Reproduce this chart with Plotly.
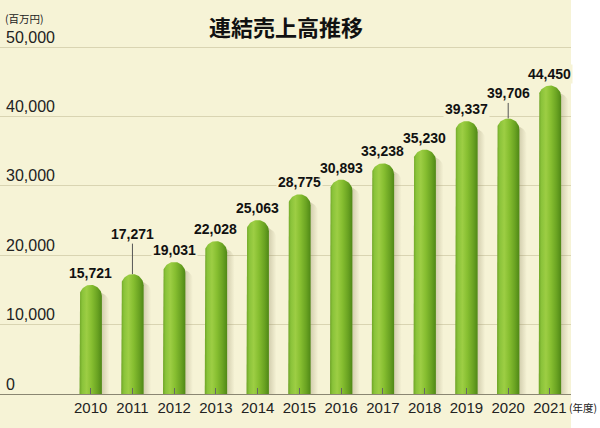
import numpy as np
import plotly.graph_objects as go

# ---- data ----
years = [2010, 2011, 2012, 2013, 2014, 2015, 2016, 2017, 2018, 2019, 2020, 2021]
sales = [15721, 17271, 19031, 22028, 25063, 28775, 30893, 33238, 35230, 39337, 39706, 44450]
label_lift = {2011: -40, 2020: -25}   # labels raised with leader lines
y_ticks = [0, 10000, 20000, 30000, 40000, 50000]
y_ticktext = ["0", "10,000", "20,000", "30,000", "40,000", "50,000"]
title_text = "連結売上高推移"
unit_y = "(百万円)"
unit_x = "(年度)"

# ---- layout geometry (pixels) ----
W, H = 600, 428
ML, MR, MT, MB = 0, 29, 4, 34
plot_w = W - ML - MR
plot_h = H - MT - MB
px_per_year = 41.75
first_px = 90.7
x0 = years[0] - first_px / px_per_year
x1 = x0 + plot_w / px_per_year
YMAX = 50000
zero_px = H - MB          # 394
top_grid_px = 47
px_per_val = (zero_px - top_grid_px) / YMAX
YTOP = plot_h / px_per_val

CREAM = "#f6f3d6"
bar_half_px = 11.2
hw = bar_half_px / px_per_year
ry = bar_half_px / px_per_val

bar_scale = [[0.0, "#6ea427"], [0.12, "#8ac33a"], [0.32, "#9dce44"],
             [0.55, "#86be30"], [0.8, "#6aa322"], [1.0, "#4f8816"]]
shadow_scale = [[0.0, "rgba(110,100,60,0.55)"], [0.55, "rgba(110,100,60,0.45)"],
                [1.0, "rgba(110,100,60,0.0)"]]

fig = go.Figure()
t = np.linspace(np.pi, 0, 40)

def dome(c, v, half, radius_y):
    xs = [c - half, c - half] + list(c + half * np.cos(t)) + [c + half, c + half]
    ys = [0, v - radius_y] + list(v - radius_y + radius_y * np.sin(t)) + [v - radius_y, 0]
    return xs, ys

for yr, v in zip(years, sales):
    # shadow
    sh_half = hw + 3.5 / px_per_year
    sc = yr + 4.0 / px_per_year
    xs, ys = dome(sc, v - 0.6 * ry, sh_half, ry)
    fig.add_trace(go.Scatter(
        x=xs, y=ys, mode="lines", fill="toself", line=dict(width=0),
        fillgradient=dict(type="horizontal", colorscale=shadow_scale,
                          start=sc - sh_half, stop=sc + sh_half),
        hoverinfo="skip", showlegend=False))
    # bar
    xs, ys = dome(yr, v, hw, ry)
    fig.add_trace(go.Scatter(
        x=xs, y=ys, mode="lines", fill="toself", line=dict(width=0),
        fillgradient=dict(type="horizontal", colorscale=bar_scale,
                          start=yr - hw, stop=yr + hw),
        hoverinfo="skip", showlegend=False))

label_font = dict(family="Arial, Liberation Sans", size=14, color="#111", weight=700)
annotations = []
for yr, v in zip(years, sales):
    lift = label_lift.get(yr)
    if lift is None:
        annotations.append(dict(
            x=yr, y=v, xref="x", yref="y", text=f"{v:,}", showarrow=False,
            yanchor="bottom", yshift=2, bgcolor=CREAM, borderpad=1, font=label_font))
    else:
        annotations.append(dict(
            x=yr, y=v, xref="x", yref="y", text=f"{v:,}", showarrow=True,
            arrowhead=0, arrowwidth=1, arrowcolor="#555", ax=0, ay=lift,
            standoff=0, bgcolor=CREAM, borderpad=1, font=label_font))

def paper_y(ypx):
    return ((H - MB) - ypx) / plot_h

annotations.append(dict(
    x=(3 - ML) / plot_w, y=paper_y(19), xref="paper", yref="paper",
    text=unit_y, showarrow=False, xanchor="left", yanchor="middle",
    font=dict(family="Noto Sans CJK JP", size=10.5, color="#222")))
annotations.append(dict(
    x=(567 - ML) / plot_w, y=paper_y(407), xref="paper", yref="paper",
    text=unit_x, showarrow=False, xanchor="left", yanchor="middle",
    font=dict(family="Noto Sans CJK JP", size=10.5, color="#222")))

fig.update_layout(
    width=W, height=H,
    margin=dict(l=ML, r=MR, t=MT, b=MB),
    paper_bgcolor="#ffffff", plot_bgcolor=CREAM,
    showlegend=False,
    title=dict(text=title_text, x=(286 - ML) / plot_w, xref="paper", xanchor="center",
               y=1 - 28 / H, yanchor="middle",
               font=dict(family="Noto Sans CJK JP", size=22, color="#111", weight=700)),
    xaxis=dict(range=[x0, x1], tickvals=years, ticktext=[str(y) for y in years],
               ticks="inside", ticklen=6, tickcolor="#666", tickwidth=1,
               showgrid=False, zeroline=False, showline=True, linecolor="#8a8672",
               linewidth=1.2, fixedrange=True,
               tickfont=dict(family="Arial, Liberation Sans", size=15, color="#222")),
    yaxis=dict(range=[0, YTOP], tickvals=y_ticks, ticktext=y_ticktext,
               ticklabelposition="inside", ticklabelshift=-10, ticklabelstandoff=3,
               showgrid=True, gridcolor="#d9d4b2",
               gridwidth=1, zeroline=False, showline=False, ticks="", fixedrange=True,
               tickfont=dict(family="Arial, Liberation Sans", size=16, color="#222")),
    annotations=annotations,
    shapes=[dict(type="rect", xref="paper", yref="paper", x0=-0.01, x1=1.0,
                 y0=-0.2, y1=1.3, fillcolor=CREAM, line=dict(width=0), layer="below")],
)

fig.write_html("out.html")
